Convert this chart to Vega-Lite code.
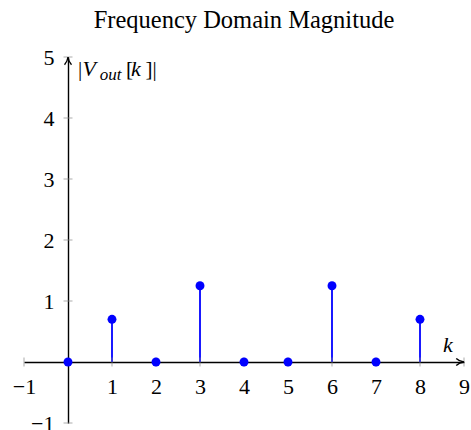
{
  "$schema": "https://vega.github.io/schema/vega-lite/v6.json",
  "width": 440,
  "height": 366,
  "autosize": "none",
  "padding": {"left": 24, "top": 57, "right": 7, "bottom": 7},
  "background": "white",
  "config": {"view": {"stroke": null}, "font": "Liberation Serif"},
  "title": {"text": "Frequency Domain Magnitude", "font": "Liberation Serif", "fontSize": 24.5, "fontWeight": "normal", "color": "black", "offset": 13},
  "datasets": {
    "stems": [
      {"k": 0, "v": 0}, {"k": 1, "v": 0.7}, {"k": 2, "v": 0}, {"k": 3, "v": 1.25},
      {"k": 4, "v": 0}, {"k": 5, "v": 0}, {"k": 6, "v": 1.25}, {"k": 7, "v": 0}, {"k": 8, "v": 0.7}
    ],
    "xticks": [{"v": -1}, {"v": 1}, {"v": 2}, {"v": 3}, {"v": 4}, {"v": 5}, {"v": 6}, {"v": 7}, {"v": 8}, {"v": 9}],
    "yticks": [{"v": -1}, {"v": 1}, {"v": 2}, {"v": 3}, {"v": 4}, {"v": 5}],
    "xarrow": [{"x": 9, "y": 0}],
    "yarrow": [{"x": 0, "y": 5}],
    "normalText": [{"t": "|", "x": 0.23, "y": 4.69}, {"t": "[", "x": 1.32, "y": 4.69}, {"t": "]", "x": 1.76, "y": 4.69}, {"t": "|", "x": 1.92, "y": 4.69}],
    "italicText": [{"t": "V", "x": 0.33, "y": 4.69}, {"t": "k", "x": 1.43, "y": 4.69}, {"t": "k", "x": 8.52, "y": 0.17}],
    "subText": [{"t": "out", "x": 0.72, "y": 4.62}]
  },
  "layer": [
    {
      "data": {"name": "stems"},
      "mark": {"type": "rule", "color": "#0000ff", "strokeWidth": 1.8},
      "encoding": {
        "x": {"field": "k", "type": "quantitative", "scale": {"domain": [-1, 9], "nice": false, "zero": false},
          "axis": {"title": null, "orient": "bottom", "offset": -61, "values": [-1, 1, 2, 3, 4, 5, 6, 7, 8, 9], "format": "d", "ticks": false, "grid": false,
            "domainColor": "black", "domainWidth": 1.4, "labelFont": "Liberation Serif", "labelFontSize": 22, "labelColor": "black",
            "labelPadding": 14, "labelFlush": false, "labelOverlap": false}},
        "y": {"field": "v", "type": "quantitative", "scale": {"domain": [-1, 5], "nice": false, "zero": false},
          "axis": {"title": null, "orient": "left", "offset": -44, "values": [-1, 1, 2, 3, 4, 5], "format": "d", "ticks": false, "grid": false,
            "domainColor": "black", "domainWidth": 1.4, "labelFont": "Liberation Serif", "labelFontSize": 22, "labelColor": "black",
            "labelPadding": 14, "labelFlush": false, "labelOverlap": false}},
        "y2": {"datum": 0}
      }
    },
    {
      "data": {"name": "xticks"},
      "mark": {"type": "tick", "orient": "vertical", "size": 9, "thickness": 1, "color": "#8a8a8a"},
      "encoding": {"x": {"field": "v", "type": "quantitative"}, "y": {"datum": 0}}
    },
    {
      "data": {"name": "yticks"},
      "mark": {"type": "tick", "orient": "horizontal", "size": 9, "thickness": 1, "color": "#8a8a8a"},
      "encoding": {"y": {"field": "v", "type": "quantitative"}, "x": {"datum": 0}}
    },
    {
      "data": {"name": "xarrow"},
      "mark": {"type": "point", "shape": "M-1,-0.9 Q-0.2,-0.15 1,0 Q-0.2,0.15 -1,0.9", "filled": false, "stroke": "black", "strokeWidth": 1.4, "size": 60, "xOffset": -3.9, "opacity": 1},
      "encoding": {"x": {"field": "x", "type": "quantitative"}, "y": {"field": "y", "type": "quantitative"}}
    },
    {
      "data": {"name": "yarrow"},
      "mark": {"type": "point", "shape": "M-1,-0.9 Q-0.2,-0.15 1,0 Q-0.2,0.15 -1,0.9", "angle": -90, "filled": false, "stroke": "black", "strokeWidth": 1.4, "size": 60, "yOffset": 3.9, "opacity": 1},
      "encoding": {"x": {"field": "x", "type": "quantitative"}, "y": {"field": "y", "type": "quantitative"}}
    },
    {
      "data": {"name": "stems"},
      "mark": {"type": "point", "filled": true, "color": "#0000ff", "size": 80, "opacity": 1},
      "encoding": {"x": {"field": "k", "type": "quantitative"}, "y": {"field": "v", "type": "quantitative"}}
    },
    {
      "data": {"name": "normalText"},
      "mark": {"type": "text", "font": "Liberation Serif", "fontSize": 21, "align": "left", "baseline": "alphabetic", "color": "black"},
      "encoding": {"x": {"field": "x", "type": "quantitative"}, "y": {"field": "y", "type": "quantitative"}, "text": {"field": "t"}}
    },
    {
      "data": {"name": "italicText"},
      "mark": {"type": "text", "font": "Liberation Serif", "fontStyle": "italic", "fontSize": 22, "align": "left", "baseline": "alphabetic", "color": "black"},
      "encoding": {"x": {"field": "x", "type": "quantitative"}, "y": {"field": "y", "type": "quantitative"}, "text": {"field": "t"}}
    },
    {
      "data": {"name": "subText"},
      "mark": {"type": "text", "font": "Liberation Serif", "fontStyle": "italic", "fontSize": 17, "align": "left", "baseline": "alphabetic", "color": "black"},
      "encoding": {"x": {"field": "x", "type": "quantitative"}, "y": {"field": "y", "type": "quantitative"}, "text": {"field": "t"}}
    }
  ]
}
